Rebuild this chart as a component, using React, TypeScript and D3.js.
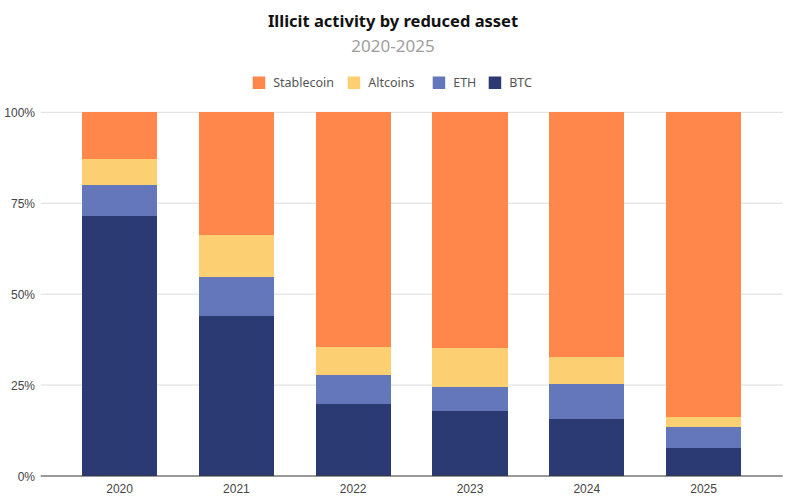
import { useEffect, useRef } from "react";
import * as d3 from "d3";

const years = ["2020", "2021", "2022", "2023", "2024", "2025"];
const btc = [71.6, 44.1, 19.7, 18.0, 15.7, 7.8];
const eth = [8.4, 10.6, 8.1, 6.4, 9.5, 5.6];
const altcoins = [7.1, 11.6, 7.6, 10.7, 7.6, 2.8];
const stablecoin = [12.9, 33.7, 64.6, 64.9, 67.2, 83.8];
const yTicks = [0, 25, 50, 75, 100];

const seriesKeys = ["BTC", "ETH", "Altcoins", "Stablecoin"];
const legendOrder = ["Stablecoin", "Altcoins", "ETH", "BTC"];
const colors: Record<string, string> = {
  Stablecoin: "#ff874b",
  Altcoins: "#fbcf72",
  ETH: "#6577bb",
  BTC: "#2b3a72",
};

const W = 790;
const H = 497;

export default function App() {
  const svgRef = useRef<SVGSVGElement>(null);

  useEffect(() => {
    const svg = d3.select(svgRef.current);
    svg.selectAll("*").remove();

    const rows = years.map((year, i) => ({
      year,
      BTC: btc[i],
      ETH: eth[i],
      Altcoins: altcoins[i],
      Stablecoin: stablecoin[i],
    }));

    // normalise each year to 100%
    const stacked = d3
      .stack<any>()
      .keys(seriesKeys)
      .offset(d3.stackOffsetExpand)(rows);

    const x = d3
      .scaleBand()
      .domain(years)
      .range([61.2, 762])
      .paddingInner(0.355)
      .paddingOuter(0.1775);

    const y = d3.scaleLinear().domain([0, 1]).range([476, 112.3]);

    // gridlines
    svg
      .append("g")
      .selectAll("line")
      .data(yTicks.filter((t) => t > 0))
      .enter()
      .append("line")
      .attr("x1", 40.7)
      .attr("x2", 782.7)
      .attr("y1", (d) => y(d / 100))
      .attr("y2", (d) => y(d / 100))
      .attr("stroke", "#dcdcdc")
      .attr("stroke-width", 1);

    // y labels
    svg
      .append("g")
      .selectAll("text")
      .data(yTicks)
      .enter()
      .append("text")
      .attr("x", 35)
      .attr("y", (d) => y(d / 100) + 4.5)
      .attr("text-anchor", "end")
      .attr("font-family", "Arial, 'Liberation Sans', sans-serif")
      .attr("font-size", 12)
      .attr("fill", "#444")
      .text((d) => `${d}%`);

    // bars
    svg
      .append("g")
      .attr("shape-rendering", "crispEdges")
      .selectAll("g")
      .data(stacked)
      .enter()
      .append("g")
      .attr("fill", (s) => colors[s.key])
      .selectAll("rect")
      .data((s) => s)
      .enter()
      .append("rect")
      .attr("x", (d: any) => x(d.data.year) || 0)
      .attr("width", x.bandwidth())
      .attr("y", (d) => y(d[1]))
      .attr("height", (d) => y(d[0]) - y(d[1]));

    // baseline
    svg
      .append("line")
      .attr("x1", 40.7)
      .attr("x2", 782.7)
      .attr("y1", 476)
      .attr("y2", 476)
      .attr("stroke", "#333")
      .attr("stroke-width", 1);

    // x labels
    svg
      .append("g")
      .selectAll("text")
      .data(years)
      .enter()
      .append("text")
      .attr("x", (d) => (x(d) || 0) + x.bandwidth() / 2)
      .attr("y", 493)
      .attr("text-anchor", "middle")
      .attr("font-family", "Arial, 'Liberation Sans', sans-serif")
      .attr("font-size", 12)
      .attr("fill", "#444")
      .text((d) => d);

    // title
    svg
      .append("text")
      .attr("x", 393)
      .attr("y", 26.5)
      .attr("text-anchor", "middle")
      .attr("font-family", "'Noto Sans', sans-serif")
      .attr("font-weight", 700)
      .attr("font-size", 16.5)
      .attr("fill", "#111")
      .text("Illicit activity by reduced asset");

    svg
      .append("text")
      .attr("x", 393)
      .attr("y", 51.5)
      .attr("text-anchor", "middle")
      .attr("font-family", "'Noto Sans', sans-serif")
      .attr("font-size", 17)
      .attr("fill", "#9e9e9e")
      .text("2020-2025");

    // legend
    const legendX = [252.7, 347.7, 432.7, 488.7];
    const lg = svg
      .append("g")
      .selectAll("g")
      .data(legendOrder)
      .enter()
      .append("g")
      .attr("transform", (_d, i) => `translate(${legendX[i]},76.5)`);
    lg.append("rect")
      .attr("width", 12.5)
      .attr("height", 12.5)
      .attr("fill", (d) => colors[d]);
    lg.append("text")
      .attr("x", 20.5)
      .attr("y", 10.8)
      .attr("font-family", "'Noto Sans', sans-serif")
      .attr("font-size", 12.5)
      .attr("fill", "#555")
      .text((d) => d);
  }, []);

  return (
    <svg
      ref={svgRef}
      width={W}
      height={H}
      style={{ position: "absolute", left: 0, top: 0, background: "#fff" }}
    />
  );
}
